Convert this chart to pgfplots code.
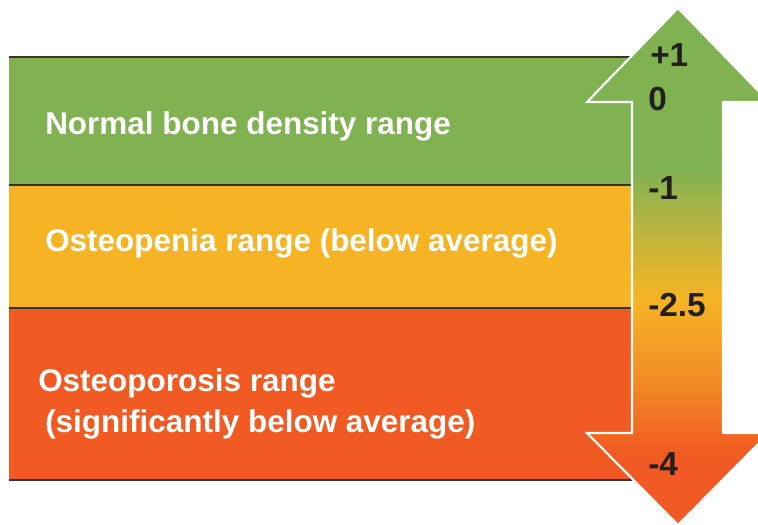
\documentclass[border=0pt]{standalone}
\usepackage{pgfplots}
\pgfplotsset{compat=1.18}
\usepackage{fontspec}
\setmainfont{Liberation Sans}
\definecolor{cGreen}{HTML}{80B251}
\definecolor{cOrange}{HTML}{F6B425}
\definecolor{cRed}{HTML}{F15A22}
\definecolor{cMid}{HTML}{F29026}
\definecolor{cOlive}{HTML}{C5B43C}
\definecolor{cLine}{HTML}{333333}
\definecolor{cText}{HTML}{231F20}
\pgfdeclareverticalshading{bonegrad}{100bp}{%
 color(0bp)=(cRed); color(25bp)=(cRed); color(31.8bp)=(cRed);
 color(39.7bp)=(cMid); color(46.8bp)=(cOrange);
 color(52.6bp)=(cOlive); color(59.3bp)=(cGreen);
 color(75bp)=(cGreen); color(100bp)=(cGreen)}
\begin{document}
\begin{tikzpicture}
\begin{axis}[
  scale only axis, width=568.5pt, height=393.75pt,
  xmin=0, xmax=758, ymin=0, ymax=525, y dir=reverse,
  hide axis, clip=true]
% bands (pixel coordinates of the reference)
\addplot[fill=cGreen, draw=none] coordinates {(9,57) (640,57) (640,185) (9,185)} -- cycle;
\addplot[fill=cOrange, draw=none] coordinates {(9,185) (640,185) (640,308) (9,308)} -- cycle;
\addplot[fill=cRed, draw=none] coordinates {(9,308) (640,308) (640,480) (9,480)} -- cycle;
\addplot[cLine, line width=1pt] coordinates {(9,57) (640,57)};
\addplot[cLine, line width=1pt] coordinates {(9,185) (640,185)};
\addplot[cLine, line width=1pt] coordinates {(9,308) (640,308)};
\addplot[cLine, line width=1pt] coordinates {(9,480) (640,480)};
% double arrow
\addplot[shading=bonegrad, draw=white, line width=1.6pt, line join=miter] coordinates {
 (678,8) (769,102) (723,102) (723,433) (769,433) (678,525)
 (587,433) (632,433) (632,102) (587,102)} -- cycle;
% labels
\node[anchor=west, inner sep=0, text=white, font=\fontsize{23.6}{27}\selectfont\bfseries] at (axis cs:45,126) {Normal bone density range};
\node[anchor=west, inner sep=0, text=white, font=\fontsize{23.6}{27}\selectfont\bfseries] at (axis cs:45,243) {Osteopenia range (below average)};
\node[anchor=west, inner sep=0, text=white, font=\fontsize{23.6}{27}\selectfont\bfseries] at (axis cs:38,383) {Osteoporosis range};
\node[anchor=west, inner sep=0, text=white, font=\fontsize{23.6}{27}\selectfont\bfseries] at (axis cs:45,424) {(significantly below average)};
\node[anchor=west, inner sep=0, text=cText, font=\fontsize{25}{29}\selectfont\bfseries] at (axis cs:650,55) {+1};
\node[anchor=west, inner sep=0, text=cText, font=\fontsize{25}{29}\selectfont\bfseries] at (axis cs:648,99) {0};
\node[anchor=west, inner sep=0, text=cText, font=\fontsize{25}{29}\selectfont\bfseries] at (axis cs:648,188) {-1};
\node[anchor=west, inner sep=0, text=cText, font=\fontsize{25}{29}\selectfont\bfseries] at (axis cs:648,305) {-2.5};
\node[anchor=west, inner sep=0, text=cText, font=\fontsize{25}{29}\selectfont\bfseries] at (axis cs:648,464) {-4};
\end{axis}
\pgfresetboundingbox
\path (current axis.south west) rectangle (current axis.north east);
\end{tikzpicture}
\end{document}
